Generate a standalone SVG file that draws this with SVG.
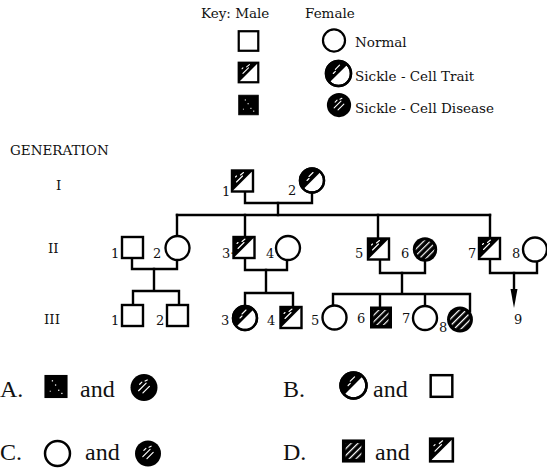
<svg xmlns="http://www.w3.org/2000/svg" xmlns:xlink="http://www.w3.org/1999/xlink" width="547" height="470" viewBox="0 0 547 470">
  <style>
    .lbl { font-family: "DejaVu Serif", "Liberation Serif", serif; font-size: 13px; fill: #111; }
    .key { font-family: "DejaVu Serif", "Liberation Serif", serif; font-size: 13.5px; fill: #111; }
    .ans { font-family: "Liberation Serif", "Times New Roman", serif; font-size: 24px; fill: #111; }
    .outline { fill: #fff; stroke: #000; stroke-width: 2.4; }
    .frame { fill: none; stroke: #000; stroke-width: 2.4; }
    .link { fill: none; stroke: #000; stroke-width: 2.4; stroke-linecap: square; }
    .streak { stroke: #fff; stroke-width: 1.1; stroke-linecap: round; fill: none; }
  </style>
  <defs>
    <!-- white diagonal stripes on black, used for the disease symbols -->
    <pattern id="stripes" patternUnits="userSpaceOnUse" width="4.6" height="4.6" patternTransform="rotate(-45)">
      <rect width="4.6" height="4.6" fill="#000"/>
      <rect y="1.8" width="4.6" height="1.2" fill="#fff"/>
    </pattern>
    <!-- male symbols, centred on 0,0 -->
    <g id="m-normal">
      <rect x="-10.5" y="-10.5" width="21" height="21" class="outline"/>
    </g>
    <g id="m-trait">
      <rect x="-10.5" y="-10.5" width="21" height="21" fill="#fff"/>
      <path d="M-10.5,-10.5 H10.5 L-10.5,10.5 Z" fill="#000"/>
      <path d="M-6,1 L0,-5 M-2,-6 L1,-8.5 M-7,-4 L-6,-5" class="streak"/>
      <rect x="-10.5" y="-10.5" width="21" height="21" class="frame"/>
    </g>
    <g id="m-disease">
      <rect x="-10.5" y="-10.5" width="21" height="21" fill="#000" stroke="#000" stroke-width="1"/>
      <rect x="-4" y="-6" width="1.2" height="1.2" fill="#fff"/>
      <rect x="-1" y="-2" width="1.2" height="1.2" fill="#fff"/>
      <rect x="2" y="3" width="1.2" height="1.2" fill="#fff"/>
      <rect x="5" y="6" width="1.2" height="1.2" fill="#fff"/>
      <rect x="-6" y="4" width="1" height="1" fill="#fff"/>
    </g>
    <g id="m-disease-hatch">
      <rect x="-10.5" y="-10.5" width="21" height="21" fill="#000" stroke="#000" stroke-width="1"/>
      <rect x="-7.5" y="-7.5" width="15" height="15" fill="url(#stripes)"/>
    </g>
    <!-- female symbols, centred on 0,0 -->
    <g id="f-normal">
      <circle r="12" class="outline"/>
    </g>
    <g id="f-trait">
      <circle r="12" class="outline"/>
      <path d="M-8.5,8.5 A12,12 0 0 1 8.5,-8.5 Z" fill="#000"/>
      <path d="M-3,-4 L1,-8 M-5,0 L-3,-2" class="streak"/>
      <circle r="12" class="frame"/>
    </g>
    <g id="f-disease">
      <circle r="12.2" fill="#000"/>
      <circle r="9.3" fill="url(#stripes)"/>
    </g>
    <g id="f-disease-sparse">
      <circle r="12.5" fill="#000"/>
      <path d="M-5,3 L2,-4 M-1,5 L5,-1 M-4,-3 L-2,-5 M1,-6 L3,-7" class="streak"/>
    </g>
  </defs>

  <rect width="547" height="470" fill="#fff"/>

  <!-- legend -->
  <g id="legend">
    <text class="key" x="201" y="18">Key: Male</text>
    <text class="key" x="305" y="18">Female</text>
    <use xlink:href="#m-normal" href="#m-normal" transform="translate(248.5,41) scale(0.93)"/>
    <use xlink:href="#m-trait" href="#m-trait" transform="translate(248.5,72.5) scale(0.93)"/>
    <use xlink:href="#m-disease" href="#m-disease" transform="translate(248.5,105) scale(0.93)"/>
    <use xlink:href="#f-normal" href="#f-normal" transform="translate(334,40.5) scale(0.92)"/>
    <use xlink:href="#f-trait" href="#f-trait" transform="translate(338.5,73.5) scale(1.04)"/>
    <use xlink:href="#f-disease-sparse" href="#f-disease-sparse" transform="translate(339,105) scale(0.97)"/>
    <text class="key" x="355" y="47">Normal</text>
    <text class="key" x="355" y="81">Sickle - Cell Trait</text>
    <text class="key" x="355" y="113">Sickle - Cell Disease</text>
  </g>

  <!-- generation labels -->
  <g id="generations">
    <text class="key" x="10" y="155">GENERATION</text>
    <text class="key" x="56" y="190">I</text>
    <text class="key" x="48" y="253">II</text>
    <text class="key" x="44" y="324">III</text>
  </g>

  <!-- connectors -->
  <g id="connectors">
    <!-- generation I mating and sibship -->
    <path class="link" d="M245,191.5 V203 H312 V192.5"/>
    <path class="link" d="M278,203 V215"/>
    <path class="link" d="M177,215 H490"/>
    <path class="link" d="M177,215 V236 M245,215 V237 M378,215 V238.5 M490,215 V238"/>
    <!-- II-1 x II-2 -->
    <path class="link" d="M132,258 V269 H177 V260"/>
    <path class="link" d="M154,269 V291 M133,291 H179 M133,291 V305 M179,291 V305"/>
    <!-- II-3 x II-4 -->
    <path class="link" d="M245,258 V270 H287 V260.5"/>
    <path class="link" d="M266,270 V293 M245,293 H293 M245,293 V305.5 M293,293 V307"/>
    <!-- II-5 x II-6 -->
    <path class="link" d="M380,259.5 V273 H425 V261.5"/>
    <path class="link" d="M402,273 V294 M333,294 H470 M333,294 V305 M380,294 V307 M425,294 V306 M470,294 V311"/>
    <!-- II-7 x II-8 -->
    <path class="link" d="M490,259 V273 H537 V261.5"/>
    <path class="link" d="M514,273 V292"/>
    <polygon points="510.5,289 517.5,289 514,308" fill="#000"/>
  </g>

  <!-- generation I -->
  <g id="I-1">
    <use xlink:href="#m-trait" href="#m-trait" x="242.5" y="181"/>
    <text class="lbl" x="222" y="196">1</text>
  </g>
  <g id="I-2">
    <use xlink:href="#f-trait" href="#f-trait" x="312" y="180.5"/>
    <text class="lbl" x="288" y="195">2</text>
  </g>

  <!-- generation II -->
  <g id="II-1">
    <use xlink:href="#m-normal" href="#m-normal" x="132.5" y="247.5"/>
    <text class="lbl" x="111" y="258">1</text>
  </g>
  <g id="II-2">
    <use xlink:href="#f-normal" href="#f-normal" x="177.5" y="248"/>
    <text class="lbl" x="153" y="258">2</text>
  </g>
  <g id="II-3">
    <use xlink:href="#m-trait" href="#m-trait" x="244" y="247.5"/>
    <text class="lbl" x="222" y="258">3·</text>
  </g>
  <g id="II-4">
    <use xlink:href="#f-normal" href="#f-normal" x="288" y="248"/>
    <text class="lbl" x="266" y="258">4</text>
  </g>
  <g id="II-5">
    <use xlink:href="#m-trait" href="#m-trait" x="378.5" y="249"/>
    <text class="lbl" x="355" y="258">5</text>
  </g>
  <g id="II-6">
    <use xlink:href="#f-disease" href="#f-disease" x="425" y="249.5"/>
    <text class="lbl" x="401" y="258">6</text>
  </g>
  <g id="II-7">
    <use xlink:href="#m-trait" href="#m-trait" x="489.5" y="248.5"/>
    <text class="lbl" x="468" y="258">7</text>
  </g>
  <g id="II-8">
    <use xlink:href="#f-normal" href="#f-normal" x="535" y="249.5"/>
    <text class="lbl" x="512" y="258">8</text>
  </g>

  <!-- generation III -->
  <g id="III-1">
    <use xlink:href="#m-normal" href="#m-normal" x="132.5" y="315.5"/>
    <text class="lbl" x="111" y="325">1</text>
  </g>
  <g id="III-2">
    <use xlink:href="#m-normal" href="#m-normal" x="177.5" y="315.5"/>
    <text class="lbl" x="156" y="325">2</text>
  </g>
  <g id="III-3">
    <use xlink:href="#f-trait" href="#f-trait" x="245" y="318"/>
    <text class="lbl" x="221" y="325">3</text>
  </g>
  <g id="III-4">
    <use xlink:href="#m-trait" href="#m-trait" x="291" y="317.5"/>
    <text class="lbl" x="267" y="325">4</text>
  </g>
  <g id="III-5">
    <use xlink:href="#f-normal" href="#f-normal" x="334.5" y="317.5"/>
    <text class="lbl" x="311" y="325">5</text>
  </g>
  <g id="III-6">
    <use xlink:href="#m-disease-hatch" href="#m-disease-hatch" x="381" y="317.5"/>
    <text class="lbl" x="357" y="323">6</text>
  </g>
  <g id="III-7">
    <use xlink:href="#f-normal" href="#f-normal" x="425" y="318"/>
    <text class="lbl" x="402" y="323">7</text>
  </g>
  <g id="III-8">
    <use xlink:href="#f-disease" href="#f-disease" transform="translate(460,319.5) scale(1.06)"/>
    <text class="lbl" x="439" y="332">8</text>
  </g>
  <g id="III-9">
    <text class="lbl" x="514" y="324">9</text>
  </g>

  <!-- answer choices -->
  <g id="answers">
    <text class="ans" x="0" y="397">A.</text>
    <use xlink:href="#m-disease" href="#m-disease" transform="translate(56,386.5) scale(1.05)"/>
    <text class="ans" x="80" y="397">and</text>
    <use xlink:href="#f-disease-sparse" href="#f-disease-sparse" transform="translate(144,387.5) scale(1.08)"/>

    <text class="ans" x="283" y="397">B.</text>
    <use xlink:href="#f-trait" href="#f-trait" transform="translate(353.5,385.5) scale(1.08)"/>
    <text class="ans" x="373" y="397">and</text>
    <use xlink:href="#m-normal" href="#m-normal" transform="translate(441.5,386) scale(1.03)"/>

    <text class="ans" x="0" y="460">C.</text>
    <use xlink:href="#f-normal" href="#f-normal" transform="translate(57.5,453.5) scale(1.04)"/>
    <text class="ans" x="85" y="460">and</text>
    <use xlink:href="#f-disease-sparse" href="#f-disease-sparse" transform="translate(148,453.5) scale(1.04)"/>

    <text class="ans" x="283" y="460">D.</text>
    <use xlink:href="#m-disease-hatch" href="#m-disease-hatch" transform="translate(353.5,451) scale(1.05)"/>
    <text class="ans" x="375" y="460">and</text>
    <use xlink:href="#m-trait" href="#m-trait" transform="translate(441.5,450) scale(1.08)"/>
  </g>
</svg>
